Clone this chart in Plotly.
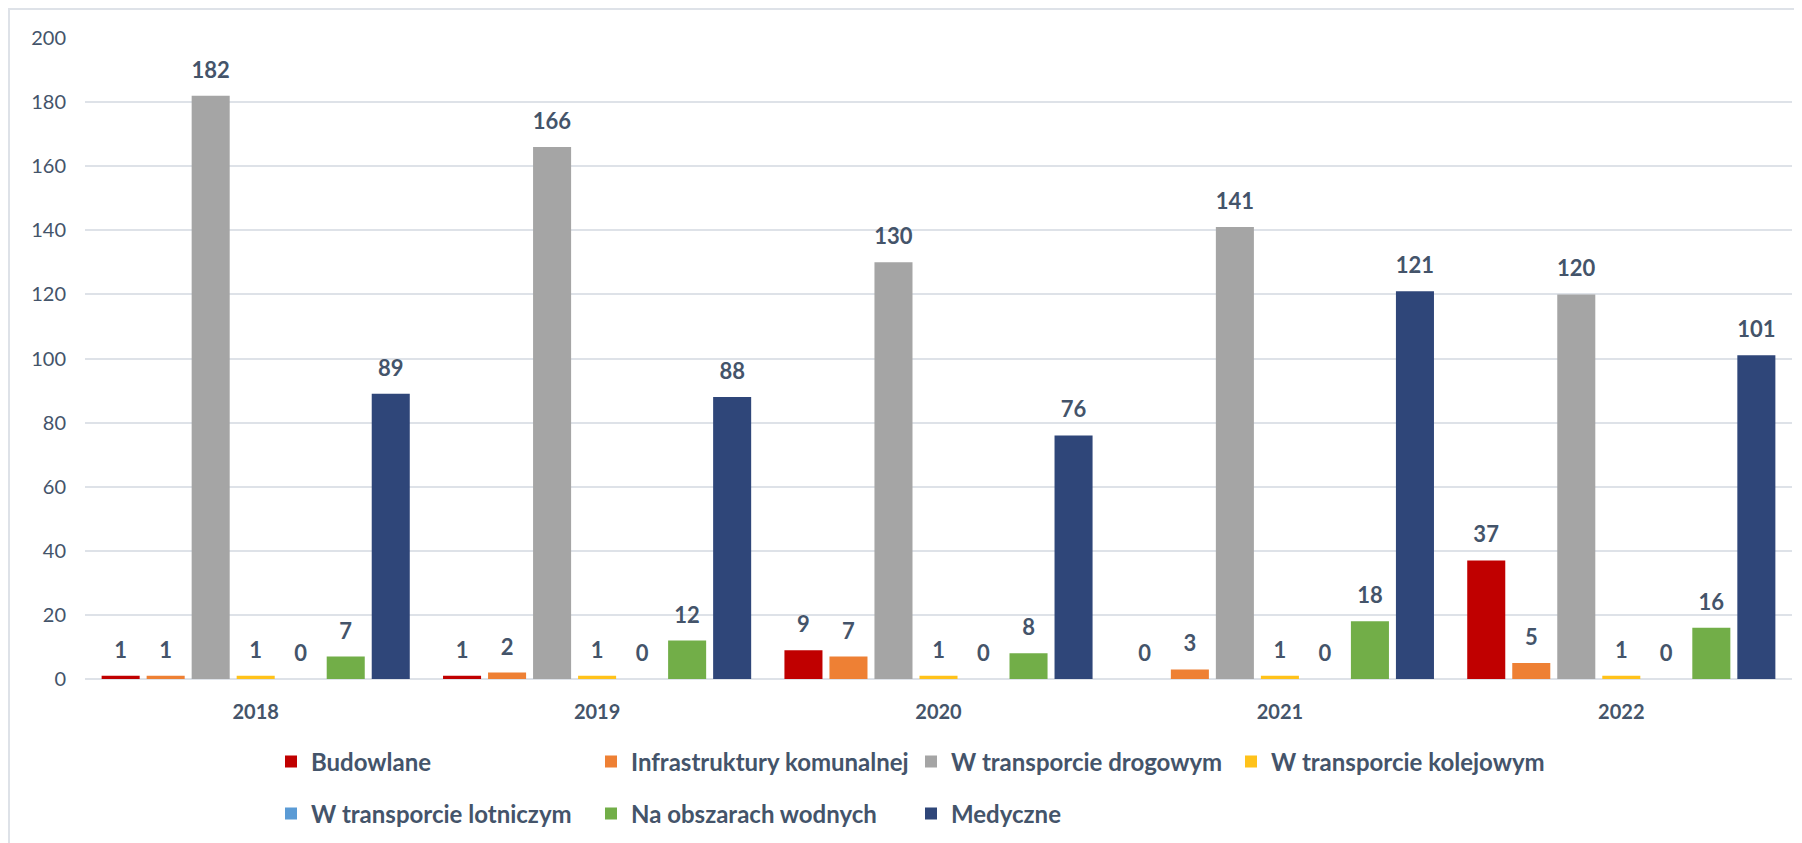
import plotly.graph_objects as go

years = ["2018", "2019", "2020", "2021", "2022"]
series_names = [
    "Budowlane",
    "Infrastruktury komunalnej",
    "W transporcie drogowym",
    "W transporcie kolejowym",
    "W transporcie lotniczym",
    "Na obszarach wodnych",
    "Medyczne",
]
budowlane = [1, 1, 9, 0, 37]
infrastruktury = [1, 2, 7, 3, 5]
drogowy = [182, 166, 130, 141, 120]
kolejowy = [1, 1, 1, 1, 1]
lotniczy = [0, 0, 0, 0, 0]
wodne = [7, 12, 8, 18, 16]
medyczne = [89, 88, 76, 121, 101]

series_values = [budowlane, infrastruktury, drogowy, kolejowy, lotniczy, wodne, medyczne]
colors = ["#C00000", "#EE8034", "#A5A5A5", "#FFC21A", "#5B9BD5", "#72AE48", "#2F4679"]
legend_ids = ["legend", "legend", "legend", "legend", "legend2", "legend2", "legend2"]

TEXT = "#44546A"
FONT = "Lato"


def label(v):
    # number in large bold type, followed by a small blank line that
    # lifts the label a little further above the bar end
    return "<span style='font-size:22px'>%d</span><br>\u00a0" % v


fig = go.Figure()
for name, vals, col, lg in zip(series_names, series_values, colors, legend_ids):
    fig.add_trace(go.Bar(
        x=years, y=vals, name=name,
        marker=dict(color=col, line=dict(width=0)),
        text=[label(v) for v in vals],
        textposition="outside",
        constraintext="none",
        cliponaxis=False,
        textfont=dict(family=FONT, size=10, color=TEXT, weight="bold"),
        legend=lg,
        hovertemplate="%{x}: %{y}<extra>" + name + "</extra>",
    ))

# the page body adds an 8px offset, so the figure fills the rest of the window
W, H = 1794, 835
ml, mr, mt, mb = 77, 10, 30, 164
pw = W - ml - mr
ph = H - mt - mb

legend_common = dict(
    orientation="h",
    xanchor="left", yanchor="middle",
    x=186 / pw,
    entrywidth=275, entrywidthmode="pixels",
    font=dict(family=FONT, size=24, color=TEXT, weight="bold"),
    bgcolor="rgba(0,0,0,0)",
    traceorder="normal",
    itemclick=False,
)

fig.update_layout(
    width=W, height=H,
    margin=dict(l=ml, r=mr, t=mt, b=mb, autoexpand=False),
    paper_bgcolor="white", plot_bgcolor="white",
    barmode="group", bargap=0.077, bargroupgap=0.155,
    font=dict(family=FONT, color=TEXT),
    legend=dict(**legend_common, y=-83 / ph),
    legend2=dict(**legend_common, y=-135 / ph),
    xaxis=dict(
        showgrid=False, showline=False, ticks="", automargin=False,
        tickfont=dict(family=FONT, size=20, color=TEXT, weight="bold"),
        ticklabelstandoff=19,
    ),
    yaxis=dict(
        range=[0, 200], dtick=20, automargin=False,
        showgrid=True, gridcolor="#DEE2E8", gridwidth=2,
        zeroline=True, zerolinecolor="#DEE2E8", zerolinewidth=2,
        showline=False, ticks="",
        tickfont=dict(family=FONT, size=20, color=TEXT),
        ticklabelstandoff=18,
    ),
    showlegend=True,
)

# light chart-area border (top and left edges visible in the reference)
fig.add_shape(
    type="rect", xref="paper", yref="paper",
    x0=(1 - ml) / pw, x1=(W + 20 - ml) / pw,
    y0=(H - mb - (H + 20)) / ph, y1=(H - mb - 1) / ph,
    line=dict(color="#DEE2E8", width=2), fillcolor="rgba(0,0,0,0)",
    layer="below",
)

fig.write_html("out.html")
